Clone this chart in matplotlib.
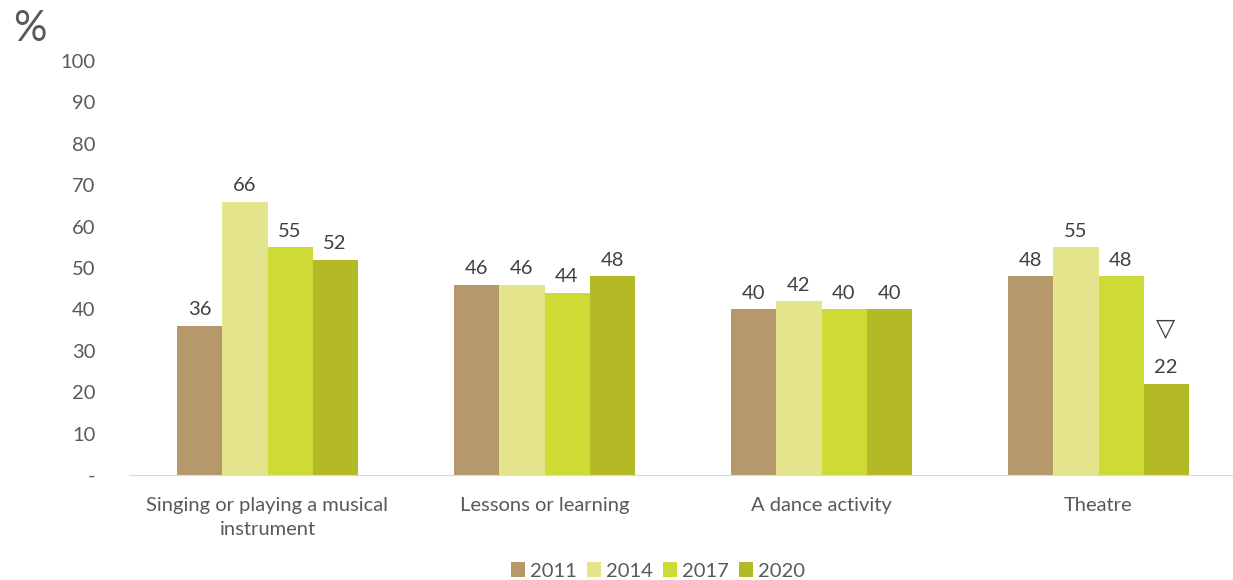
import numpy as np
import matplotlib.pyplot as plt

plt.rcParams['font.family'] = ['Lato', 'DejaVu Sans']

categories = ['Singing or playing a musical\ninstrument', 'Lessons or learning',
              'A dance activity', 'Theatre']
years = ['2011', '2014', '2017', '2020']
v2011 = [36, 46, 40, 48]
v2014 = [66, 46, 42, 55]
v2017 = [55, 44, 40, 48]
v2020 = [52, 48, 40, 22]
colors = ['#B5996A', '#E4E48C', '#CEDB35', '#B4BA26']

series = [v2011, v2014, v2017, v2020]
txt = '#595959'

fig = plt.figure(figsize=(12.33, 5.8), dpi=100)
ax = fig.add_axes([129 / 1233, 0.181, 1108 / 1233, 0.895 - 0.181])

x = np.arange(len(categories))
w = 0.1625
for i, (vals, c, yr) in enumerate(zip(series, colors, years)):
    pos = x + (i - 1.5) * w
    ax.bar(pos, vals, width=w, color=c, label=yr)
    for p, v in zip(pos, vals):
        ax.text(p, v + 1.8, str(v), ha='center', va='bottom', fontsize=14.5, color='#404040')

# significance marker for Theatre 2020
ax.text(x[3] + 1.5 * w, v2020[3] + 10.5, '▽', ha='center', va='bottom',
        fontsize=18, color='#404040', family=['DejaVu Sans'])

ax.set_xlim(-0.5, 3.5)
ax.set_ylim(0, 100)
ax.set_yticks(range(0, 101, 10))
ax.set_yticklabels(['-'] + [str(t) for t in range(10, 101, 10)])
ax.set_xticks(x)
ax.set_xticklabels(categories, linespacing=1.45)
ax.tick_params(axis='both', length=0, labelsize=14.5, colors=txt)
ax.tick_params(axis='y', pad=24)
ax.tick_params(axis='x', pad=16)
for s in ['top', 'right', 'left']:
    ax.spines[s].set_visible(False)
ax.spines['bottom'].set_color('#D9D9D9')

fig.text(13 / 1233, 1 - 29 / 580, '%', fontsize=30, color=txt, va='center', ha='left')

fig.legend(loc='center', bbox_to_anchor=(658 / 1233, 1 - 571 / 580), ncol=4, frameon=False,
           fontsize=14.5, handlelength=0.7, handleheight=0.7, handletextpad=0.25,
           columnspacing=0.5, labelcolor=txt)

fig.savefig('out.png', dpi=100)
